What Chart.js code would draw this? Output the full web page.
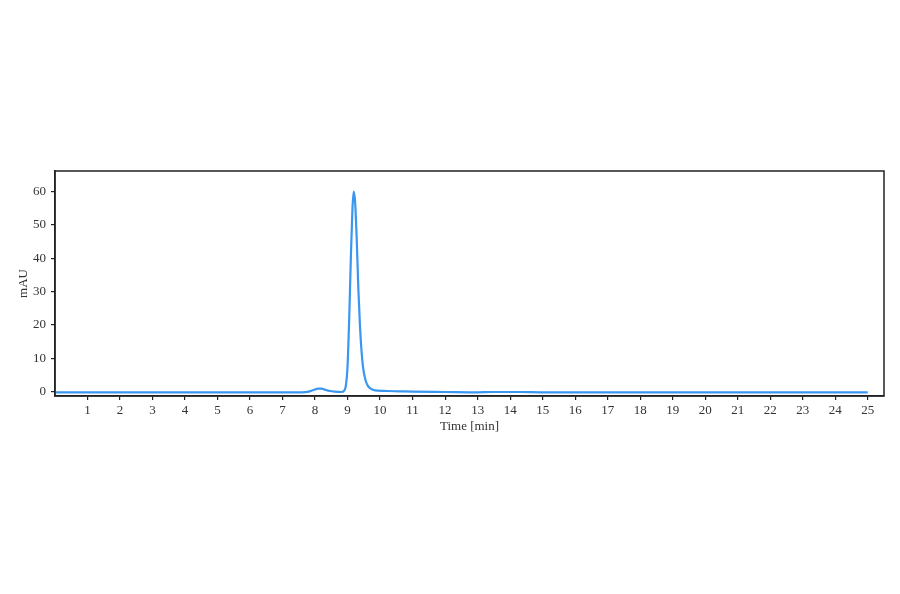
<!DOCTYPE html>
<html>
<head>
<meta charset="utf-8">
<title>Chromatogram</title>
<script src="https://cdn.jsdelivr.net/npm/chart.js@4.4.1/dist/chart.umd.min.js"></script>
<style>
  html, body { margin: 0; padding: 0; background: #fff; }
  #wrap { width: 900px; height: 594px; position: relative; }
</style>
</head>
<body>
<div id="wrap"><canvas id="chart"></canvas></div>
<script>
// retention time (min) and absorbance (mAU)
const times = [
  0, 1, 2, 3, 4, 5, 6, 7, 7.6, 7.8, 7.95, 8.1, 8.2, 8.3, 8.45, 8.6, 8.8,
  8.9, 8.95, 9.0, 9.05, 9.1, 9.15, 9.19, 9.23, 9.28, 9.33, 9.38, 9.43, 9.48,
  9.55, 9.62, 9.7, 9.8, 9.95, 10.2, 10.6, 11, 12, 13, 13.4, 13.8, 14.3,
  15, 16, 17, 18, 19, 20, 21, 22, 23, 24, 25
];
const absorbance = [
  -0.2, -0.2, -0.2, -0.2, -0.2, -0.2, -0.2, -0.2, -0.2, 0.0, 0.5, 0.9, 0.9, 0.6, 0.2, 0.0, -0.1,
  0.4, 2, 8, 22, 40, 55, 60, 57, 46, 31, 20, 12, 7,
  3.5, 1.8, 1.0, 0.5, 0.3, 0.2, 0.1, 0.0, -0.1, -0.2, -0.1, -0.1, -0.1,
  -0.2, -0.2, -0.2, -0.2, -0.2, -0.2, -0.2, -0.2, -0.2, -0.2, -0.2
];
const xTicks = [1, 2, 3, 4, 5, 6, 7, 8, 9, 10, 11, 12, 13, 14, 15, 16, 17, 18, 19, 20, 21, 22, 23, 24, 25];
const yTicks = [0, 10, 20, 30, 40, 50, 60];

const points = times.map((t, i) => ({ x: t, y: absorbance[i] }));

// box round the plot area
const frame = {
  id: "frame",
  afterDraw(chart) {
    const { ctx, chartArea: a } = chart;
    ctx.save();
    ctx.strokeStyle = "#222";
    ctx.lineWidth = 1.5;
    ctx.strokeRect(a.left, a.top, a.right - a.left, a.bottom - a.top);
    ctx.restore();
  },
};

const tickFont = { family: "'Liberation Serif', 'DejaVu Serif', serif", size: 13 };

new Chart(document.getElementById("chart"), {
  type: "line",
  data: {
    datasets: [
      {
        data: points,
        borderColor: "#3a97f0",
        borderWidth: 2.2,
        pointRadius: 0,
        cubicInterpolationMode: "monotone",
        fill: false,
      },
    ],
  },
  options: {
    responsive: true,
    maintainAspectRatio: false,
    animation: false,
    layout: { padding: { top: 171, right: 16, bottom: 158, left: 0 } },
    plugins: { legend: { display: false }, tooltip: { enabled: false } },
    scales: {
      x: {
        type: "linear",
        min: 0,
        max: 25.5,
        afterBuildTicks: (s) => { s.ticks = xTicks.map((v) => ({ value: v })); },
        afterFit: (s) => { s.height = 40; },
        grid: { drawOnChartArea: false, drawTicks: true, tickLength: 4, color: "#222", lineWidth: 1.2 },
        border: { display: true, color: "#222", width: 1.5 },
        ticks: { color: "#333", font: tickFont, padding: 3, maxRotation: 0 },
        title: { display: true, text: "Time [min]", color: "#333", font: tickFont, padding: { top: 4, bottom: 2 } },
      },
      y: {
        min: -1.3,
        max: 66.2,
        afterBuildTicks: (s) => { s.ticks = yTicks.map((v) => ({ value: v })); },
        afterFit: (s) => { s.width = 55; },
        grid: { drawOnChartArea: false, drawTicks: true, tickLength: 4, color: "#222", lineWidth: 1.2 },
        border: { display: true, color: "#222", width: 1.5 },
        ticks: { color: "#333", font: tickFont, padding: 5 },
        title: { display: true, text: "mAU", color: "#333", font: tickFont, padding: { top: 16, bottom: 0 } },
      },
    },
  },
  plugins: [frame],
});
</script>
</body>
</html>
